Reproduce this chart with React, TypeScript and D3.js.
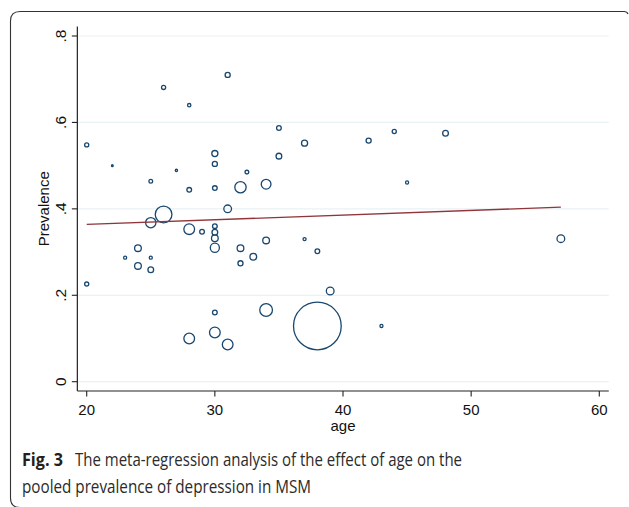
import React from "react";
import * as d3 from "d3";

const ages = [20, 22, 26, 28, 31, 35, 37, 30, 30, 27, 32.5, 35, 25, 28, 30, 32, 34, 31, 42, 44, 48, 45,
  26, 25, 28, 29, 30, 30, 30, 30, 32, 33, 32, 34, 37, 38, 24, 23, 25, 24, 25, 20, 30, 34, 30, 28, 31, 38, 39, 43, 57];
const prevalence = [0.548, 0.5, 0.681, 0.64, 0.71, 0.587, 0.552, 0.528, 0.504, 0.489, 0.485, 0.522, 0.464, 0.444, 0.448, 0.45, 0.457, 0.4, 0.558, 0.579, 0.575, 0.461,
  0.387, 0.368, 0.353, 0.347, 0.36, 0.346, 0.332, 0.31, 0.309, 0.289, 0.274, 0.327, 0.33, 0.302, 0.309, 0.287, 0.287, 0.268, 0.259, 0.226, 0.16, 0.166, 0.114, 0.1, 0.086, 0.129, 0.21, 0.129, 0.331];
const weights = [7.3, 2.3, 7.3, 5.3, 10.2, 9, 13.7, 13.7, 10.2, 3.2, 6.3, 12.3, 6.3, 9, 9, 39.7, 30.3, 20.3, 10.2, 7.3, 12.3, 4.8,
  81, 33.6, 36, 9, 9, 12.3, 16, 27, 16, 16, 10.2, 16, 4.8, 9, 16, 4.8, 4.8, 16, 12.3, 7.3, 9, 49, 36, 36, 36, 600, 20.3, 4.8, 20.3];

const xTicks = [20, 30, 40, 50, 60];
const yTicks = [0, 0.2, 0.4, 0.6, 0.8];
const yTickLabels = ["0", ".2", ".4", ".6", ".8"];
const regIntercept = 0.3424;
const regSlope = 0.00108;

export default function App() {
  const x = d3.scaleLinear().domain([20, 60]).range([86.7, 599.3]);
  const y = d3.scaleLinear().domain([0, 0.8]).range([381.7, 36]);
  const r = d3.scaleSqrt().domain([0, d3.max(weights) as number]).range([0, 24.5]);
  const xMin = 19.27, xMax = 60.74, yMin = -0.0215, yMax = 0.822;
  const ageExt = d3.extent(ages) as [number, number];
  const line = d3.line<number>().x((a) => x(a)).y((a) => y(regIntercept + regSlope * a));
  const sans = "'Liberation Sans', Arial, sans-serif";
  const capFont = "'Open Sans', 'Noto Sans', sans-serif";
  return (
    <svg width={629} height={507} style={{ position: "absolute", left: 0, top: 0 }}>
      <rect width={629} height={507} fill="#fff" />
      <path d="M20,507.5 Q10.5,507.5 10.5,498 L10.5,21 Q10.5,11.5 20,11.5 L624,11.5 Q627,11.5 628,14" fill="none" stroke="#333" strokeWidth={1.1} />
      {yTicks.map((t) => (
        <line key={"g" + t} x1={x(xMin)} x2={x(xMax)} y1={y(t)} y2={y(t)} stroke="#eaf2f3" strokeWidth={1.2} />
      ))}
      <line x1={x(xMin)} x2={x(xMin)} y1={y(yMin)} y2={y(yMax)} stroke="#222" strokeWidth={1.2} />
      <line x1={x(xMin)} x2={x(xMax)} y1={y(yMin)} y2={y(yMin)} stroke="#222" strokeWidth={1.2} />
      {yTicks.map((t, i) => (
        <g key={"yt" + t}>
          <line x1={x(xMin) - 5.5} x2={x(xMin)} y1={y(t)} y2={y(t)} stroke="#222" strokeWidth={1.1} />
          <text transform={`translate(${65.5},${y(t)}) rotate(-90)`} textAnchor="middle" fontFamily={sans} fontSize={15.5} fill="#111">
            {yTickLabels[i]}
          </text>
        </g>
      ))}
      {xTicks.map((t) => (
        <g key={"xt" + t}>
          <line x1={x(t)} x2={x(t)} y1={y(yMin)} y2={y(yMin) + 5.5} stroke="#222" strokeWidth={1.1} />
          <text x={x(t)} y={415} textAnchor="middle" fontFamily={sans} fontSize={15} fill="#111">{t}</text>
        </g>
      ))}
      <text transform={`translate(48.5,${(y(yMin) + y(yMax)) / 2}) rotate(-90)`} textAnchor="middle" fontFamily={sans} fontSize={15} fill="#111">Prevalence</text>
      <text x={x(40)} y={431} textAnchor="middle" fontFamily={sans} fontSize={15} fill="#111">age</text>
      {ages.map((a, i) => (
        <circle key={"c" + i} cx={x(a)} cy={y(prevalence[i])} r={Math.max(r(weights[i]) - 0.65, 0.8)} fill="none" stroke="#1a476f" strokeWidth={1.3} />
      ))}
      <path d={line([ageExt[0], ageExt[1]]) || ""} fill="none" stroke="#90353b" strokeWidth={1.3} />
      <text x={22} y={466} fontFamily={capFont} fontSize={18} fontWeight="bold" fill="#231f20" textLength={41} lengthAdjust="spacingAndGlyphs">Fig. 3</text>
      <text x={75} y={466} fontFamily={capFont} fontSize={18} fill="#2b2b2b" textLength={387} lengthAdjust="spacingAndGlyphs">The meta-regression analysis of the effect of age on the</text>
      <text x={22} y={493} fontFamily={capFont} fontSize={18} fill="#2b2b2b" textLength={289} lengthAdjust="spacingAndGlyphs">pooled prevalence of depression in MSM</text>
    </svg>
  );
}
